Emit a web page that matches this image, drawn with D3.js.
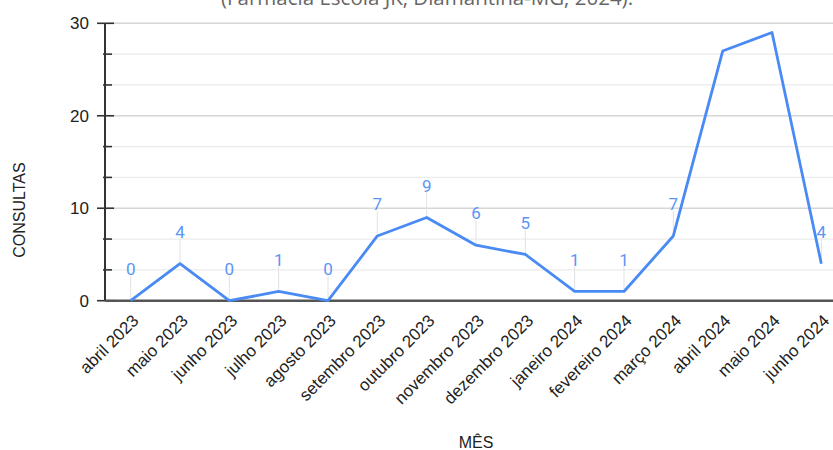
<!DOCTYPE html>
<html>
<head>
<meta charset="utf-8">
<script src="https://cdn.jsdelivr.net/npm/d3@7"></script>
<style>
  html, body { margin: 0; padding: 0; background: #fff; }
  svg { display: block; }
</style>
</head>
<body>
<svg id="chart" width="833" height="450"></svg>
<script>
// Monthly consultations, April 2023 – June 2024
const months = [
  "abril 2023", "maio 2023", "junho 2023", "julho 2023", "agosto 2023",
  "setembro 2023", "outubro 2023", "novembro 2023", "dezembro 2023",
  "janeiro 2024", "fevereiro 2024", "março 2024", "abril 2024",
  "maio 2024", "junho 2024"
];
const consultas = [0, 4, 0, 1, 0, 7, 9, 6, 5, 1, 1, 7, 27, 29, 4];
const yTicks = [0, 10, 20, 30];

const titleText = "(Farmácia Escola JK, Diamantina-MG, 2024).";
const xTitle = "MÊS";
const yTitle = "CONSULTAS";

const W = 833, H = 450;
const plot = { left: 106, right: 846, top: 23.3, bottom: 300.7 };

const svg = d3.select("#chart");

const x = d3.scalePoint().domain(months).range([plot.left, plot.right]).padding(0.5);
const y = d3.scaleLinear().domain([0, 30]).range([plot.bottom, plot.top]);

// minor subdivisions: three per major step
const minorTicks = d3.range(0, 30, 10 / 3).filter(v => Math.abs(v % 10) > 0.01 && Math.abs(v % 10 - 10) > 0.01);

// title (partly above the visible area)
svg.append("text")
  .attr("x", 427).attr("y", 5)
  .attr("text-anchor", "middle")
  .attr("font-family", "'Open Sans', sans-serif")
  .attr("font-size", 20.5)
  .attr("fill", "#666")
  .text(titleText);

// gridlines
const grid = svg.append("g");
grid.selectAll("line.minor").data(minorTicks).join("line")
  .attr("class", "minor")
  .attr("x1", plot.left + 1).attr("x2", W)
  .attr("y1", d => y(d)).attr("y2", d => y(d))
  .attr("stroke", "#ebebeb").attr("stroke-width", 1.2);
grid.selectAll("line.major").data(yTicks.filter(d => d > 0)).join("line")
  .attr("class", "major")
  .attr("x1", plot.left + 1).attr("x2", W)
  .attr("y1", d => y(d)).attr("y2", d => y(d))
  .attr("stroke", "#d6d6d6").attr("stroke-width", 1.5);

// data label leader lines and labels (only where the label stays inside the plot)
const labelOffset = 32;
const labelled = consultas.map((v, i) => ({ m: months[i], v }))
  .filter(d => y(d.v) - labelOffset - 7 >= plot.top);

svg.append("g").selectAll("line").data(labelled).join("line")
  .attr("x1", d => x(d.m)).attr("x2", d => x(d.m))
  .attr("y1", d => y(d.v)).attr("y2", d => y(d.v) - labelOffset + 7)
  .attr("stroke", "#e2e2e2").attr("stroke-width", 1);

// y axis
const yAxis = svg.append("g");
yAxis.append("line")
  .attr("x1", 105).attr("x2", 105)
  .attr("y1", plot.top).attr("y2", plot.bottom)
  .attr("stroke", "#333").attr("stroke-width", 2);
yAxis.selectAll("line.maj").data(yTicks).join("line")
  .attr("class", "maj")
  .attr("x1", 97).attr("x2", 114)
  .attr("y1", d => y(d)).attr("y2", d => y(d))
  .attr("stroke", "#333").attr("stroke-width", 1.6);
yAxis.selectAll("line.min").data(minorTicks).join("line")
  .attr("class", "min")
  .attr("x1", 103).attr("x2", 112)
  .attr("y1", d => y(d)).attr("y2", d => y(d))
  .attr("stroke", "#333").attr("stroke-width", 1.6);
yAxis.selectAll("text").data(yTicks).join("text")
  .attr("x", 89).attr("y", d => y(d))
  .attr("dy", "0.36em")
  .attr("text-anchor", "end")
  .attr("font-family", "'Liberation Sans', Arial, sans-serif")
  .attr("font-size", 17)
  .attr("fill", "#222")
  .text(d => d);

// x axis baseline
svg.append("line")
  .attr("x1", 105).attr("x2", W)
  .attr("y1", plot.bottom).attr("y2", plot.bottom)
  .attr("stroke", "#555").attr("stroke-width", 2.5);

// x tick labels, rotated
svg.append("g").selectAll("text").data(months).join("text")
  .attr("transform", d => `translate(${x(d) + 9},${plot.bottom + 21}) rotate(-45)`)
  .attr("text-anchor", "end")
  .attr("font-family", "'Liberation Sans', Arial, sans-serif")
  .attr("font-size", 17)
  .attr("fill", "#222")
  .text(d => d);

// series line
const line = d3.line()
  .x((d, i) => x(months[i]))
  .y(d => y(d));
svg.append("path")
  .datum(consultas)
  .attr("d", line)
  .attr("fill", "none")
  .attr("stroke", "#4a8af4")
  .attr("stroke-width", 2.8)
  .attr("stroke-linejoin", "round");

// value labels
svg.append("g").selectAll("text").data(labelled).join("text")
  .attr("x", d => x(d.m)).attr("y", d => y(d.v) - labelOffset)
  .attr("dy", "0.36em")
  .attr("text-anchor", "middle")
  .attr("font-family", "Roboto, sans-serif")
  .attr("font-size", 17)
  .attr("fill", "#5b96f6")
  .text(d => d.v);

// axis titles
svg.append("text")
  .attr("x", 476).attr("y", 448)
  .attr("text-anchor", "middle")
  .attr("font-family", "'Liberation Sans', Arial, sans-serif")
  .attr("font-size", 16)
  .attr("fill", "#222")
  .text(xTitle);

svg.append("text")
  .attr("transform", "translate(25,210) rotate(-90)")
  .attr("text-anchor", "middle")
  .attr("font-family", "'Liberation Sans', Arial, sans-serif")
  .attr("font-size", 16)
  .attr("fill", "#222")
  .text(yTitle);
</script>
</body>
</html>
